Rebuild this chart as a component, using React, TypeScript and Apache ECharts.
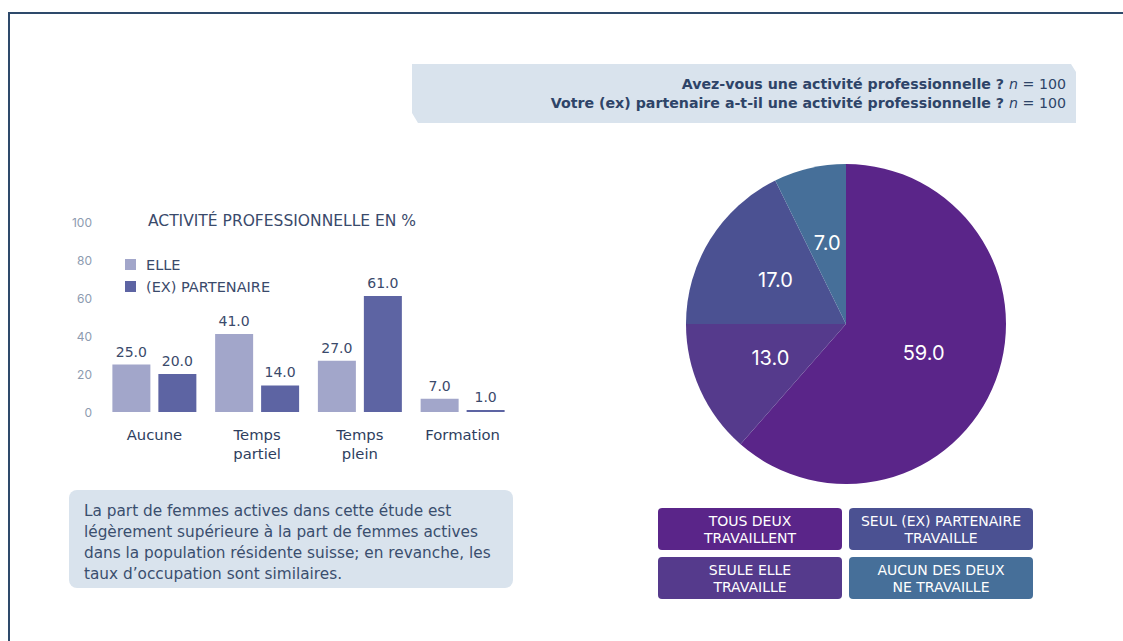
import React, { useEffect, useRef } from "react";
import * as echarts from "echarts";

const categories = ["Aucune", "Temps\npartiel", "Temps\nplein", "Formation"];
const elleValues = [25, 41, 27, 7];
const partenaireValues = [20, 14, 61, 1];
const seriesNames = ["ELLE", "(EX) PARTENAIRE"];

const pieNames = ["TOUS DEUX\nTRAVAILLENT", "SEULE ELLE\nTRAVAILLE", "SEUL (EX) PARTENAIRE\nTRAVAILLE", "AUCUN DES DEUX\nNE TRAVAILLE"];
const pieValues = [59, 13, 17, 7];
const pieColors = ["#5a2589", "#553a8c", "#4b5192", "#466f99"];

const headerLines = [
  ["Avez-vous une activité professionnelle ? ", "n", " = 100"],
  ["Votre (ex) partenaire a-t-il une activité professionnelle ? ", "n", " = 100"],
];
const noteText =
  "La part de femmes actives dans cette étude est\nlégèrement supérieure à la part de femmes actives\ndans la population résidente suisse; en revanche, les\ntaux d’occupation sont similaires.";

const FONT = "'DejaVu Sans', Inter, sans-serif";
const FONT2 = "Inter, 'Noto Sans', sans-serif";
const NAVY = "#2e4468";

export default function App() {
  const ref = useRef<HTMLDivElement>(null);
  useEffect(() => {
    if (!ref.current) return;
    const chart = echarts.init(ref.current, null, { renderer: "svg" });

    const legendBoxes: any[] = [];
    const boxPos = [
      [658, 508], // tous deux
      [658, 557], // seule elle
      [849, 508], // seul partenaire
      [849, 557], // aucun
    ];
    pieNames.forEach((n, i) => {
      legendBoxes.push({
        type: "rect",
        shape: { x: boxPos[i][0], y: boxPos[i][1], width: 184, height: 42, r: 4 },
        style: { fill: pieColors[i] },
      });
      legendBoxes.push({
        type: "text",
        x: boxPos[i][0] + 92,
        y: boxPos[i][1] + 21,
        style: {
          text: n,
          fill: "#ffffff",
          font: `14px ${FONT}`,
          align: "center",
          verticalAlign: "middle",
          lineHeight: 17,
        },
      });
    });

    const headerTexts = headerLines.map((l, i) => ({
      type: "text",
      x: 1066,
      y: 84 + i * 19,
      style: {
        text: `{b|${l[0]}}{i|${l[1]}}{r|${l[2]}}`,
        align: "right",
        verticalAlign: "middle",
        rich: {
          b: { font: `bold 14.2px ${FONT}`, fill: NAVY },
          i: { font: `italic 14.2px ${FONT}`, fill: NAVY },
          r: { font: `14.2px ${FONT}`, fill: NAVY },
        },
      },
    }));

    const labelFmt = (p: any) => p.value.toFixed(1);

    chart.setOption({
      animation: false,
      textStyle: { fontFamily: FONT },
      legend: {
        data: seriesNames,
        orient: "vertical",
        left: 120,
        top: 252,
        itemWidth: 11,
        itemHeight: 11,
        itemGap: 7,
        icon: "rect",
        textStyle: { color: "#3a4a6b", fontSize: 14.5, fontFamily: FONT, padding: [0, 0, 0, 5] },
      },
      grid: { left: 103, right: 609, top: 222, bottom: 229 },
      xAxis: {
        type: "category",
        data: categories,
        axisLine: { show: false },
        axisTick: { show: false },
        axisLabel: { color: "#2e3e5e", fontSize: 14.8, fontFamily: FONT, margin: 13, lineHeight: 19, verticalAlign: "top" },
      },
      yAxis: {
        type: "value",
        min: 0,
        max: 100,
        interval: 20,
        splitLine: { show: false },
        axisLine: { show: false },
        axisLabel: { color: "#8d9bb0", fontSize: 12, fontFamily: FONT2, margin: 11 },
      },
      series: [
        {
          name: seriesNames[0],
          type: "bar",
          data: elleValues,
          barWidth: 38,
          barGap: "21%",
          itemStyle: { color: "#a2a6ca" },
          label: { show: true, position: "top", distance: 6, color: "#3a4a6b", fontSize: 14, fontFamily: FONT, formatter: labelFmt },
        },
        {
          name: seriesNames[1],
          type: "bar",
          data: partenaireValues,
          barWidth: 38,
          itemStyle: { color: "#5d64a3" },
          label: { show: true, position: "top", distance: 6, color: "#3a4a6b", fontSize: 14, fontFamily: FONT, formatter: labelFmt },
        },
        {
          type: "pie",
          center: [846, 324],
          radius: [0, 160],
          startAngle: 90,
          clockwise: true,
          avoidLabelOverlap: false,
          data: pieNames.map((n, i) => ({ name: n, value: pieValues[i], itemStyle: { color: pieColors[i] } })),
          label: {
            show: true,
            position: "inside",
            color: "#ffffff",
            fontSize: 20,
            fontFamily: FONT2,
            formatter: labelFmt,
          },
          labelLine: { show: false },
          emphasis: { disabled: true },
        },
      ],
      graphic: [
        { type: "line", shape: { x1: 8, y1: 13, x2: 1123, y2: 13 }, style: { stroke: "#2e4a6b", lineWidth: 2 } },
        { type: "line", shape: { x1: 9, y1: 13, x2: 9, y2: 641 }, style: { stroke: "#2e4a6b", lineWidth: 2 } },
        {
          type: "polygon",
          shape: { points: [[412, 64], [1071, 64], [1076, 72], [1076, 123], [418, 123], [412, 113]] },
          style: { fill: "#d9e3ed" },
        },
        ...headerTexts,
        {
          type: "text",
          x: 148,
          y: 221,
          style: { text: "ACTIVITÉ PROFESSIONNELLE EN %", fill: "#3a4a6b", font: `15.5px ${FONT}`, verticalAlign: "middle" },
        },
        {
          type: "rect",
          shape: { x: 69, y: 490, width: 444, height: 98, r: 8 },
          style: { fill: "#d9e3ed" },
        },
        {
          type: "text",
          x: 84,
          y: 500,
          style: { text: noteText, fill: "#3a4e6e", font: `15.3px ${FONT}`, lineHeight: 21, verticalAlign: "top" },
        },
        ...legendBoxes,
      ],
    });
    return () => chart.dispose();
  }, []);
  return <div ref={ref} style={{ position: "fixed", left: 0, top: 0, width: 1123, height: 641, background: "#fff" }} />;
}
